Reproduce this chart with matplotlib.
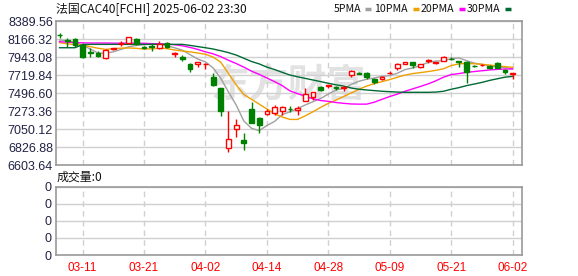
import matplotlib
matplotlib.use("Agg")
import matplotlib.pyplot as plt
from matplotlib.lines import Line2D
import numpy as np

# ---- data (CAC40 daily, 2025-03-06 .. 2025-06-02) ----
opens = [8225, 8160, 8166, 8100, 8005, 8000, 7930, 8045, 8112, 8116,
         8170, 8075, 8078, 8060, 8125, 7985, 7950, 7855, 7855, 7858,
         7700, 7557, 6811, 7047, 6910, 7299, 7191, 7237, 7255, 7278,
         7305, 7290, 7402, 7452, 7570, 7590, 7568, 7565, 7722, 7745,
         7743, 7668, 7668, 7748, 7813, 7859, 7880, 7822, 7897, 7872,
         7900, 7920, 7892, 7880, 7837, 7847, 7834, 7875, 7784, 7730]
closes = [8220, 8150, 8090, 7950, 7998, 7955, 8030, 8052, 8118, 8190,
          8105, 8060, 8072, 8112, 8070, 7995, 7918, 7795, 7880, 7865,
          7600, 7278, 6926, 7097, 6873, 7129, 7100, 7278, 7330, 7320,
          7295, 7310, 7486, 7507, 7537, 7595, 7562, 7572, 7771, 7740,
          7701, 7635, 7693, 7752, 7859, 7880, 7843, 7855, 7903, 7878,
          7949, 7915, 7885, 7756, 7832, 7852, 7805, 7813, 7756, 7751]
highs = [8245, 8186, 8180, 8118, 8060, 8020, 8040, 8060, 8148, 8200,
         8178, 8085, 8116, 8140, 8135, 8012, 7975, 7875, 7885, 7868,
         7745, 7565, 7278, 7175, 6997, 7390, 7200, 7300, 7350, 7340,
         7337, 7335, 7557, 7510, 7580, 7600, 7585, 7590, 7784, 7760,
         7754, 7680, 7710, 7770, 7875, 7885, 7885, 7862, 7915, 7885,
         7955, 7940, 7895, 7900, 7850, 7858, 7843, 7885, 7800, 7753]
lows = [8185, 8075, 8070, 7930, 7950, 7945, 7918, 8035, 8085, 8110,
        8095, 8045, 8020, 8040, 8060, 7945, 7890, 7756, 7825, 7797,
        7585, 7216, 6761, 6955, 6790, 7122, 7005, 7220, 7228, 7225,
        7265, 7220, 7402, 7411, 7523, 7555, 7540, 7520, 7700, 7730,
        7668, 7610, 7660, 7730, 7785, 7855, 7805, 7815, 7875, 7860,
        7895, 7905, 7818, 7619, 7820, 7840, 7795, 7805, 7740, 7672]

ma5 = [8157, 8148, 8124, 8095, 8045, 7995, 7992, 8010, 8040, 8072,
       8090, 8100, 8105, 8108, 8085, 8060, 8030, 7975, 7920, 7885,
       7810, 7680, 7510, 7350, 7150, 7060, 7030, 7095, 7145, 7230,
       7265, 7305, 7350, 7390, 7430, 7485, 7535, 7555, 7605, 7645,
       7670, 7685, 7705, 7715, 7745, 7790, 7810, 7840, 7880, 7895,
       7900, 7925, 7935, 7900, 7870, 7855, 7835, 7825, 7815, 7800]
ma10 = [8124, 8110, 8100, 8095, 8074, 8055, 8041, 8050, 8056, 8058,
        8054, 8045, 8048, 8054, 8050, 8033, 8020, 8010, 7995, 7980,
        7945, 7880, 7740, 7600, 7480, 7420, 7360, 7300, 7240, 7200,
        7170, 7170, 7215, 7265, 7320, 7370, 7410, 7455, 7500, 7545,
        7585, 7615, 7640, 7665, 7695, 7722, 7740, 7752, 7765, 7780,
        7800, 7840, 7860, 7867, 7862, 7855, 7846, 7835, 7826, 7818]
ma20 = [8136, 8130, 8125, 8122, 8120, 8120, 8120, 8118, 8118, 8118,
        8118, 8116, 8112, 8110, 8106, 8098, 8085, 8065, 8040, 8010,
        7985, 7950, 7905, 7865, 7820, 7770, 7730, 7685, 7640, 7590,
        7525, 7490, 7460, 7425, 7405, 7395, 7380, 7370, 7362, 7360,
        7360, 7385, 7420, 7455, 7485, 7520, 7550, 7580, 7612, 7650,
        7695, 7728, 7740, 7755, 7765, 7775, 7785, 7792, 7797, 7797]
ma30 = [8061, 8061, 8061, 8100, 8103, 8103, 8103, 8103, 8103, 8103,
        8103, 8103, 8103, 8103, 8103, 8103, 8103, 8090, 8075, 8061,
        8045, 8024, 8000, 7970, 7930, 7890, 7860, 7820, 7790, 7755,
        7722, 7700, 7680, 7660, 7640, 7619, 7600, 7585, 7560, 7545,
        7536, 7528, 7520, 7515, 7510, 7507, 7507, 7507, 7507, 7510,
        7520, 7545, 7565, 7590, 7610, 7630, 7655, 7675, 7695, 7705]

tick_idx = [3, 11, 19, 27, 35, 43, 51, 59]
tick_labels = ["03-11", "03-21", "04-02", "04-14", "04-28", "05-09", "05-21", "06-02"]
price_levels = [6603.64, 6826.88, 7050.12, 7273.36, 7496.60,
                7719.84, 7943.08, 8166.32, 8389.56]
ma_names = ["5PMA", "10PMA", "20PMA", "30PMA"]
ma_colors = ["#a0a0a0", "#f0a000", "#ff00ff", "#006a35"]

W, H = 578, 276
UP, DOWN = "#ff0000", "#008000"
GRID = "#d0d0d0"
LABEL = "#222244"
CJK = ["Noto Sans CJK SC", "DejaVu Sans"]


def fx(px):
    return px / W


def fy(py):
    return 1 - py / H


def style_axes(ax):
    for s in ax.spines.values():
        s.set_color("#999999")
        s.set_linewidth(1.2)
    ax.set_xlim(-0.5, 60.26)
    ax.set_xticks(tick_idx)
    ax.tick_params(length=0)
    ax.xaxis.grid(True, color=GRID, lw=1, ls=(0, (4, 3)))
    ax.yaxis.grid(True, color=GRID, lw=1, ls="-")
    ax.set_axisbelow(True)


fig = plt.figure(figsize=(W / 100, H / 100), dpi=100)

# ---- price panel ----
ax = fig.add_axes([fx(55.7), fy(165), fx(522.3) - fx(55.7), fy(21.3) - fy(165)])
style_axes(ax)
ax.set_ylim(price_levels[0], price_levels[-1])
ax.set_yticks(price_levels)
ax.set_yticklabels([f"{v:.2f}" for v in price_levels], family="Liberation Sans",
                   fontsize=9, color=LABEL)
ax.tick_params(axis="y", pad=2)
ax.set_xticklabels([])

# watermark
ax.text(fx(288), fy(86), "东方财富", transform=fig.transFigure, ha="center", va="center",
        family=CJK, fontsize=28, fontweight="bold", color="#e2e2e2", zorder=0.5)

x = np.arange(len(opens))
for name, vals, col in zip(ma_names, [ma5, ma10, ma20, ma30], ma_colors):
    ax.plot(x, vals, color=col, lw=1.0, zorder=2)

o = np.array(opens)
c = np.array(closes)
up = c >= o
cols = np.where(up, UP, DOWN)
ax.vlines(x, lows, highs, colors=cols, lw=1.0, zorder=3)
bottoms = np.minimum(o, c)
heights = np.abs(c - o)
ax.bar(x[up], heights[up], bottom=bottoms[up], width=0.62,
       facecolor="white", edgecolor=UP, lw=1.0, zorder=4)
ax.bar(x[~up], heights[~up], bottom=bottoms[~up], width=0.62,
       facecolor=DOWN, edgecolor=DOWN, lw=1.0, zorder=4)

# ---- volume panel ----
vax = fig.add_axes([fx(55.7), fy(255), fx(522.3) - fx(55.7), fy(186.7) - fy(255)])
style_axes(vax)
vax.set_ylim(0, 4)
vax.set_yticks([0, 1, 2, 3, 4])
vax.set_yticklabels(["0"] * 5, family="Liberation Sans", fontsize=9, color=LABEL)
vax.tick_params(axis="y", pad=3)
vax.set_xticklabels(tick_labels, family="Liberation Sans", fontsize=8.5, color="red")
vax.tick_params(axis="x", pad=5)

# ---- texts ----
fig.text(fx(56), fy(9), "法国CAC40[FCHI] 2025-06-02 23:30", family=CJK,
         fontsize=8.6, ha="left", va="center", color="#111111")
fig.text(fx(57), fy(177), "成交量:0", family=CJK, fontsize=8.6,
         ha="left", va="center", color="#111111")

# legend: text ends just before its colour dash
leg_text_end = [361, 408, 454.5, 500.5]
leg_dash_x = [365, 413.3, 459, 505]
for name, col, tx, dx in zip(ma_names, ma_colors, leg_text_end, leg_dash_x):
    fig.text(fx(tx), fy(8.5), name, family=CJK, fontsize=7.6,
             ha="right", va="center", color="#111111")
    fig.add_artist(Line2D([fx(dx), fx(dx + 5.5)], [fy(9), fy(9)],
                          transform=fig.transFigure, color=col, lw=2.5,
                          solid_capstyle="butt"))

fig.savefig("out.png", dpi=100)
